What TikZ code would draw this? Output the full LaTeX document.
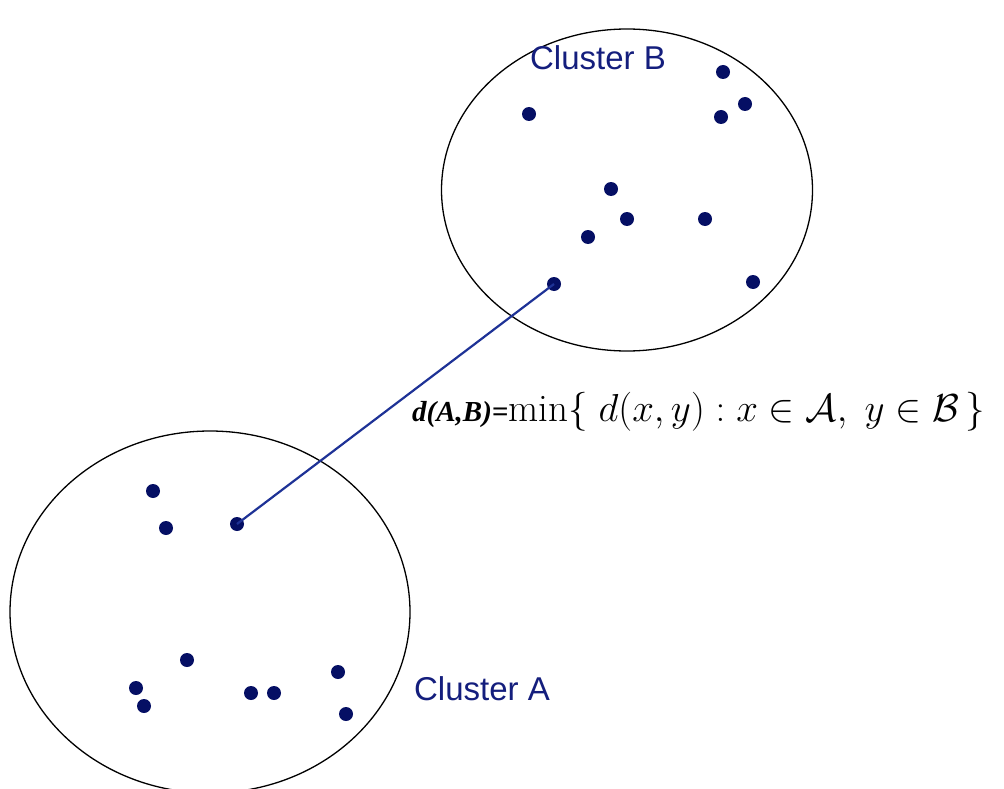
\RequirePackage{fix-cm}
\documentclass[tikz,border=0pt]{standalone}
\usepackage{fontspec}
\usepackage{amsmath}
\setsansfont{Liberation Sans}
\newfontfamily\timesfont{Liberation Serif}
\usetikzlibrary{shapes.geometric}
\definecolor{clnavy}{RGB}{5, 15,100}
\definecolor{cltext}{RGB}{20, 30,125}
\definecolor{cllink}{RGB}{30, 50,150}
\tikzset{
  clust/.style={draw=black,ellipse,line width=1.3pt,inner sep=0pt},
  pt/.style={circle,fill=clnavy,inner sep=0pt,minimum size=14pt},
  clbl/.style={font=\fontsize{33}{36}\selectfont\sffamily,text=cltext},
  link/.style={line width=2.2pt,color=cllink},
}
\begin{document}
\begin{tikzpicture}[x=1pt,y=-1pt]
  \useasboundingbox (0,0) rectangle (1004,789);
  % clusters
  \node[clust,minimum width=371pt,minimum height=322pt] (clB) at (627,190) {};
  \node[clust,minimum width=400pt,minimum height=362pt] (clA) at (210,612) {};
  % points of B
  \foreach \x/\y [count=\i] in {529/114,723/72,745/104,721/117,611/189,
                                627/219,588/237,705/219,554/284,753/282}
    \node[pt] (b\i) at (\x,\y) {};
  % points of A
  \foreach \x/\y [count=\i] in {153/491,166/528,237/524,187/660,136/688,
                                144/706,251/693,274/693,338/672,346/714}
    \node[pt] (a\i) at (\x,\y) {};
  % single link
  \draw[link] (a3.center) -- (b9.center);
  % labels
  \node[clbl] (lblB) at (598,58) {Cluster B};
  \node[clbl] (lblA) at (482,689) {Cluster A};
  \node[anchor=west,inner sep=0pt,font=\fontsize{39}{42}\selectfont] (dist) at (412,412)
    {{\timesfont\bfseries\itshape\fontsize{29}{32}\selectfont d(A,B)=}$\min\{\;d(x,y):x\in\mathcal{A},\;y\in\mathcal{B}\,\}$};
\end{tikzpicture}
\end{document}
